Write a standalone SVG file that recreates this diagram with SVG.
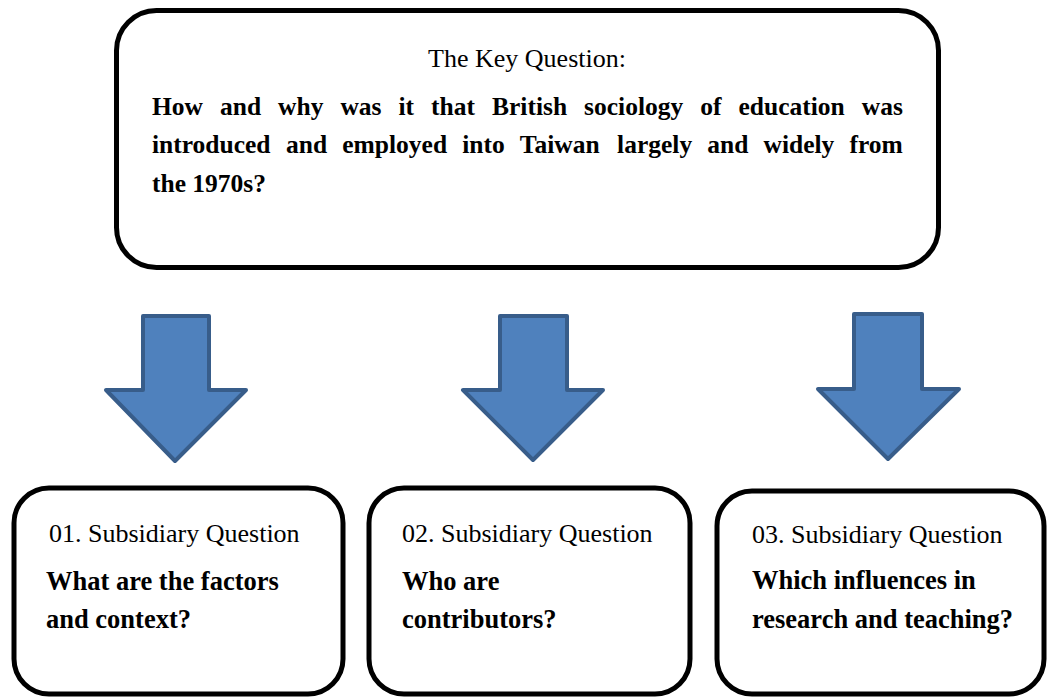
<svg xmlns="http://www.w3.org/2000/svg" width="1048" height="698" viewBox="0 0 1048 698">
<style>
.box{fill:#fff;stroke:#000;stroke-width:5}
.arrow{fill:#4f81bd;stroke:#385d8a;stroke-width:4;stroke-linejoin:round}
.reg{font-family:"Liberation Serif","Times New Roman",serif;font-size:26px;fill:#000}
.bold{font-family:"Liberation Serif","Times New Roman",serif;font-size:25.5px;font-weight:bold;fill:#000}
.bold2{font-family:"Liberation Serif","Times New Roman",serif;font-size:26.5px;font-weight:bold;fill:#000}
</style>
<rect width="1048" height="698" fill="#fff"/>
<g id="key-question">
<rect class="box" x="116.5" y="10.5" width="822" height="257" rx="40" ry="40"/>
<text class="reg" x="527" y="67" text-anchor="middle">The Key Question:</text>
<text class="bold" y="115"><tspan x="152">How</tspan><tspan x="220">and</tspan><tspan x="278.1">why</tspan><tspan x="340.4">was</tspan><tspan x="398.5">it</tspan><tspan x="431.1">that</tspan><tspan x="492">British</tspan><tspan x="584.1">sociology</tspan><tspan x="700.3">of</tspan><tspan x="738.5">education</tspan><tspan x="861.8">was</tspan></text>
<text class="bold" y="153"><tspan x="152">introduced</tspan><tspan x="286.1">and</tspan><tspan x="342.3">employed</tspan><tspan x="462.2">into</tspan><tspan x="519.8">Taiwan</tspan><tspan x="617.1">largely</tspan><tspan x="707.3">and</tspan><tspan x="763.5">widely</tspan><tspan x="849.4">from</tspan></text>
<text class="bold" x="152" y="192">the 1970s?</text>
</g>
<g id="connectors">
<path class="arrow" d="M143,316 H209 V390 H246 L175,461 L106,390 H143 Z"/>
<path class="arrow" d="M500,316 H567 V390 H603 L533,460 L463,390 H500 Z"/>
<path class="arrow" d="M854,314 H922 V389 H959 L888,459 L818,389 H854 Z"/>
</g>
<g id="sub-q1">
<rect class="box" x="14" y="488" width="329" height="206" rx="35" ry="35"/>
<text class="reg" x="49" y="542">01. Subsidiary Question</text>
<text class="bold2" x="46" y="590">What are the factors</text>
<text class="bold2" x="46" y="628">and context?</text>
</g>
<g id="sub-q2">
<rect class="box" x="369" y="488" width="321" height="206" rx="35" ry="35"/>
<text class="reg" x="402" y="542">02. Subsidiary Question</text>
<text class="bold2" x="402" y="590">Who are</text>
<text class="bold2" x="402" y="628">contributors?</text>
</g>
<g id="sub-q3">
<rect class="box" x="717" y="491" width="327" height="203" rx="35" ry="35"/>
<text class="reg" x="752" y="543">03. Subsidiary Question</text>
<text class="bold2" x="752" y="589">Which influences in</text>
<text class="bold2" x="752" y="628">research and teaching?</text>
</g>
</svg>
